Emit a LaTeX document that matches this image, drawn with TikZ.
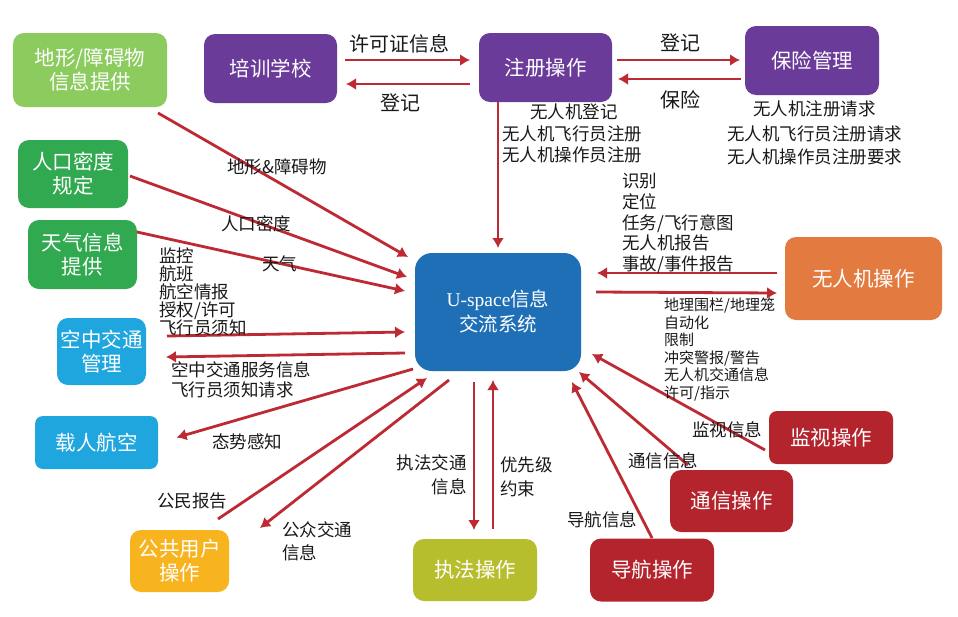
\documentclass[tikz,border=0pt]{standalone}
\usepackage{fontspec}
\setmainfont{Noto Sans CJK SC}
\newfontfamily\latinserif{Liberation Serif}
\usetikzlibrary{arrows.meta}
\definecolor{arrowred}{HTML}{BE2A33}
\definecolor{lgreen}{HTML}{8CCB5E}
\definecolor{mgreen}{HTML}{31A950}
\definecolor{purp}{HTML}{6A3B98}
\definecolor{ublue}{HTML}{1F6FB7}
\definecolor{orng}{HTML}{E37B40}
\definecolor{skyb}{HTML}{20A6DF}
\definecolor{yell}{HTML}{F7B41E}
\definecolor{oliv}{HTML}{B7BE2E}
\definecolor{dred}{HTML}{B3242C}
\tikzset{
  box/.style={rounded corners=11pt,inner sep=0pt,align=center,text=white,font=\fontsize{20.5}{24}\selectfont},
  arr/.style={draw=arrowred,line width=2.8pt,-{Latex[length=10pt,width=12pt]}},
  lab/.style={inner sep=0pt,align=left,text=black!90,font=\fontsize{17.5}{20}\selectfont,anchor=west},
  labbig/.style={lab,font=\fontsize{20}{22}\selectfont},
}
\begin{document}
\begin{tikzpicture}[x=1pt,y=-1pt]
\useasboundingbox (0,0) rectangle (958,616);
\fill[white] (0,0) rectangle (958,616);
% boxes
\node[box,fill=lgreen,minimum width=154pt,minimum height=74pt] (terrain) at (90,70) {地形/障碍物\\信息提供};
\node[box,fill=purp,minimum width=133pt,minimum height=69pt] (school) at (270.5,68.5) {培训学校};
\node[box,fill=purp,minimum width=133pt,minimum height=69pt] (reg) at (545.5,67.5) {注册操作};
\node[box,fill=purp,minimum width=134pt,minimum height=69pt] (ins) at (812,60.5) {保险管理};
\node[box,fill=mgreen,minimum width=110pt,minimum height=68pt] (pop) at (73,174) {人口密度\\规定};
\node[box,fill=mgreen,minimum width=109pt,minimum height=69pt] (wea) at (82.5,254.5) {天气信息\\提供};
\node[box,fill=ublue,rounded corners=17pt,minimum width=166pt,minimum height=118pt,font=\fontsize{19.5}{25}\selectfont] (u) at (498,312) {{\latinserif U-space}信息\\交流系统};
\node[box,fill=orng,minimum width=157pt,minimum height=83pt] (uav) at (863.5,278.5) {无人机操作};
\node[box,fill=skyb,minimum width=89pt,minimum height=67pt] (atm) at (101.5,351.5) {空中交通\\管理};
\node[box,fill=skyb,rounded corners=8pt,minimum width=123pt,minimum height=53pt] (man) at (96.5,442.5) {载人航空};
\node[box,fill=yell,minimum width=99pt,minimum height=62pt] (pub) at (179.5,561) {公共用户\\操作};
\node[box,fill=oliv,minimum width=124pt,minimum height=62pt] (law) at (475,570) {执法操作};
\node[box,fill=dred,minimum width=124pt,minimum height=63pt] (nav) at (652,570) {导航操作};
\node[box,fill=dred,minimum width=123pt,minimum height=62pt] (com) at (731.5,501) {通信操作};
\node[box,fill=dred,rounded corners=8pt,minimum width=124pt,minimum height=53pt] (sur) at (831,437.5) {监视操作};
% connectors
\draw[arr] ([shift={(74.5,-8.5)}]school.center) -- ([shift={(-75.5,-7.5)}]reg.center);
\draw[arr] ([shift={(-75.5,16.5)}]reg.center) -- ([shift={(75.5,15.5)}]school.center);
\draw[arr] ([shift={(71.5,-7.5)}]reg.center) -- ([shift={(-72,-0.5)}]ins.center);
\draw[arr] ([shift={(-71,18.5)}]ins.center) -- ([shift={(72.5,11.5)}]reg.center);
\draw[arr] ([shift={(-47.5,34.5)}]reg.center) -- ([shift={(0,-64)}]u.center);
\draw[arr] ([shift={(68,43)}]terrain.center) -- ([shift={(-90,-55)}]u.center);
\draw[arr] ([shift={(57,2)}]pop.center) -- ([shift={(-91,-35)}]u.center);
\draw[arr] ([shift={(54.5,-22.5)}]wea.center) -- ([shift={(-93,-21)}]u.center);
\draw[arr] ([shift={(65.5,-15.5)}]atm.center) -- ([shift={(-93,20)}]u.center);
\draw[arr] ([shift={(-93,41)}]u.center) -- ([shift={(64.5,5.5)}]atm.center);
\draw[arr] ([shift={(-85,57)}]u.center) -- ([shift={(80,-5)}]man.center);
\draw[arr] ([shift={(38.5,-42)}]pub.center) -- ([shift={(-71,66)}]u.center);
\draw[arr] ([shift={(-49,68)}]u.center) -- ([shift={(80.5,-33)}]pub.center);
\draw[arr] ([shift={(-24,70)}]u.center) -- ([shift={(-1,-40)}]law.center);
\draw[arr] ([shift={(18,-41)}]law.center) -- ([shift={(-5,68)}]u.center);
\draw[arr] ([shift={(0,-32)}]nav.center) -- ([shift={(74,70)}]u.center);
\draw[arr] ([shift={(-43.5,-36)}]com.center) -- ([shift={(81,60)}]u.center);
\draw[arr] ([shift={(-66,12.5)}]sur.center) -- ([shift={(94,42)}]u.center);
\draw[arr] ([shift={(-86.5,-5.5)}]uav.center) -- ([shift={(99,-39)}]u.center);
\draw[arr] ([shift={(98,-20)}]u.center) -- ([shift={(-86.5,14.5)}]uav.center);
% labels
\node[labbig] (l1) at (349,44) {许可证信息};
\node[labbig] (l2) at (380,103) {登记};
\node[labbig] (l3) at (660,43) {登记};
\node[labbig] (l4) at (660,100) {保险};
\node[lab,anchor=west] (l5) at (530,112) {无人机登记};
\node[lab,anchor=north west,font=\fontsize{17.5}{21}\selectfont] (l5b) at (502,126) {无人机飞行员注册\\无人机操作员注册};
\node[lab,anchor=west] (l6) at (753,109) {无人机注册请求};
\node[lab,anchor=north west,font=\fontsize{17.5}{23.5}\selectfont] (l6b) at (727,125.5) {无人机飞行员注册请求\\无人机操作员注册要求};
\node[lab] (l7) at (227,167) {地形\&障碍物};
\node[lab] (l8) at (221,224) {人口密度};
\node[lab] (l9) at (262,264) {天气};
\node[lab,anchor=north west,font=\fontsize{17.5}{17.7}\selectfont] (l10) at (159,248) {监控\\航班\\航空情报\\授权/许可\\飞行员须知};
\node[lab,anchor=north west,font=\fontsize{17.5}{20}\selectfont] (l11) at (171,361) {空中交通服务信息\\飞行员须知请求};
\node[lab] (l12) at (212,442) {态势感知};
\node[lab] (l13) at (157,501) {公民报告};
\node[lab,anchor=north west,font=\fontsize{17.5}{23.5}\selectfont] (l14) at (282,521) {公众交通\\信息};
\node[lab,anchor=north east,align=right,font=\fontsize{17.5}{24}\selectfont] (l15) at (467,454) {执法交通\\信息};
\node[lab,anchor=north west,font=\fontsize{17.5}{24}\selectfont] (l16) at (500,457) {优先级\\约束};
\node[lab] (l17) at (567,520) {导航信息};
\node[lab] (l18) at (628,461) {通信信息};
\node[lab] (l19) at (692,430) {监视信息};
\node[lab,anchor=north west,font=\fontsize{17.5}{20.8}\selectfont] (l20) at (622,173) {识别\\定位\\任务/飞行意图\\无人机报告\\事故/事件报告};
\node[lab,anchor=north west,font=\fontsize{15}{17.5}\selectfont] (l21) at (664,298) {地理围栏/地理笼\\自动化\\限制\\冲突警报/警告\\无人机交通信息\\许可/指示};
\end{tikzpicture}
\end{document}
